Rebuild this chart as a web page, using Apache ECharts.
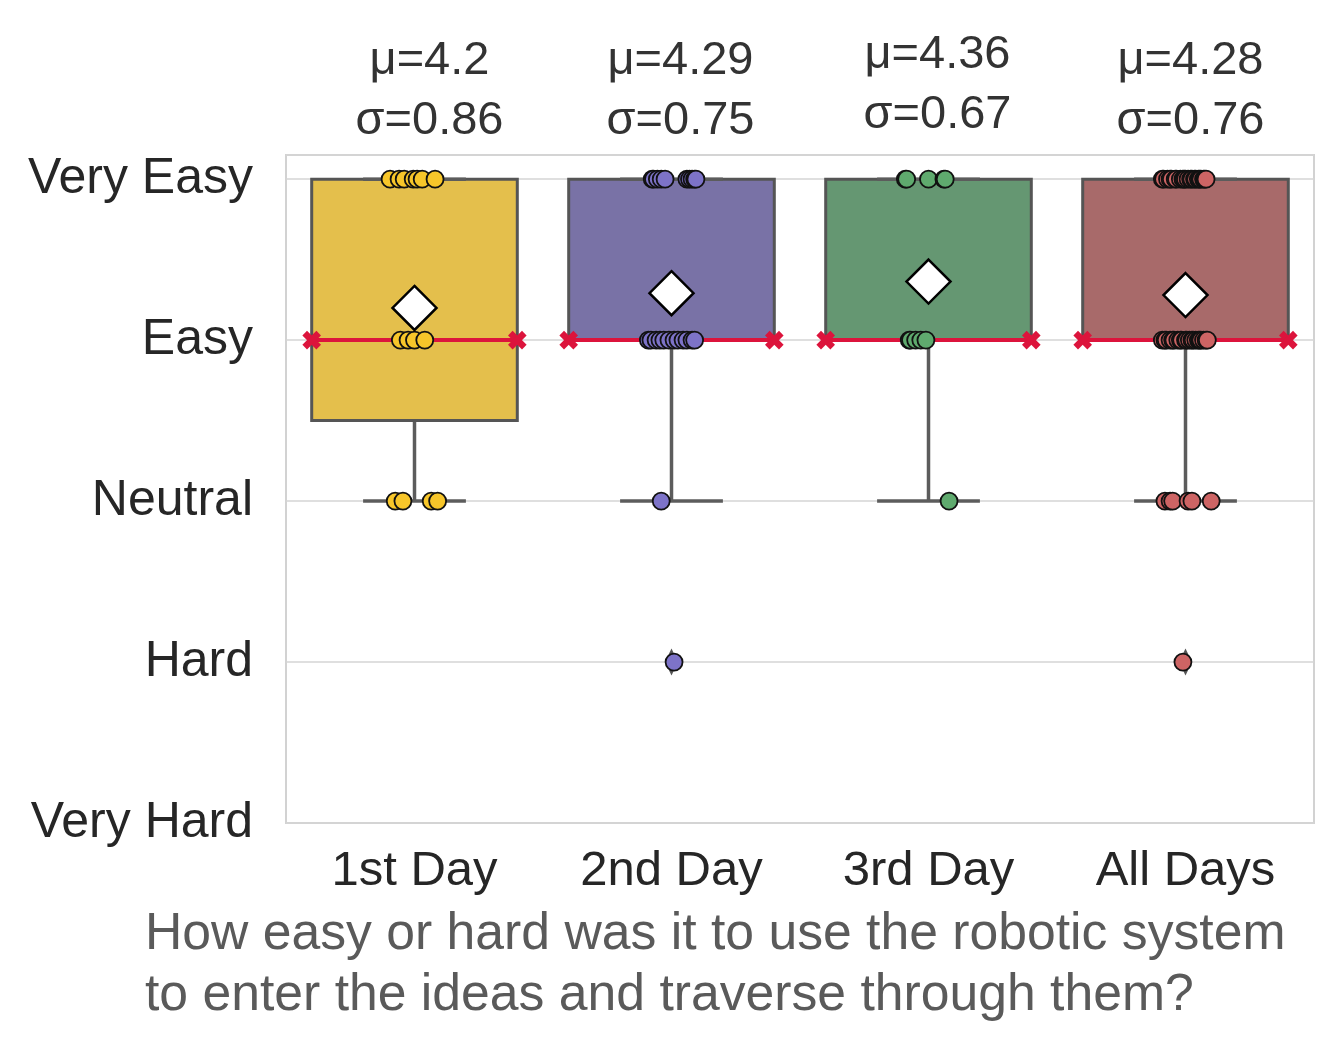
<!DOCTYPE html>
<html>
<head>
<meta charset="utf-8">
<script src="https://cdn.jsdelivr.net/npm/echarts@6/dist/echarts.min.js"></script>
<style>
  html, body { margin: 0; padding: 0; background: #ffffff; }
  #chart { width: 1338px; height: 1058px; }
</style>
</head>
<body>
<div id="chart"></div>
<script>
// ---------- data ----------
const categories = ['1st Day', '2nd Day', '3rd Day', 'All Days'];
const yTickLabels = ['Very Hard', 'Hard', 'Neutral', 'Easy', 'Very Easy']; // values 1..5
const questionText = 'How easy or hard was it to use the robotic system\nto enter the ideas and traverse through them?';

// individual responses (5 = Very Easy ... 1 = Very Hard)
const day1Responses = [5,5,5,5,5,5,5, 4,4,4,4, 3,3,3,3];
const day2Responses = [5,5,5,5,5,5,5,5,5,5, 4,4,4,4,4,4,4,4,4,4,4,4, 3, 2];
const day3Responses = [5,5,5,5,5, 4,4,4,4,4, 3];
const allDaysResponses = [
  5,5,5,5,5,5,5,5,5,5,5,5,5,5,5,5,5,5,5,5,5,5,
  4,4,4,4,4,4,4,4,4,4,4,4,4,4,4,4,4,4,4,4,4,
  3,3,3,3,3,3,
  2
];

// horizontal strip jitter (category units), as seen in the picture
const day1Jitter = [-0.095,-0.06,-0.04,-0.005,0.01,0.03,0.08, -0.055,-0.025,0.0,0.04, -0.075,-0.045,0.065,0.09];
const day2Jitter = [-0.075,-0.07,-0.055,-0.04,-0.025,0.06,0.07,0.08,0.09,0.095,
                    -0.09,-0.08,-0.06,-0.045,-0.03,-0.01,0.01,0.025,0.045,0.06,0.08,0.09,
                    -0.04, 0.01];
const day3Jitter = [-0.09,-0.085,0.0,0.06,0.065, -0.075,-0.07,-0.05,-0.03,-0.01, 0.08];
const allDaysJitter = [
  -0.09,-0.085,-0.07,-0.06,-0.055,-0.04,-0.035,-0.02,-0.01,-0.005,0.0,0.01,0.02,0.025,0.035,0.04,0.05,0.055,0.06,0.07,0.075,0.08,
  -0.09,-0.08,-0.075,-0.06,-0.05,-0.045,-0.03,-0.02,-0.015,0.0,0.005,0.015,0.025,0.03,0.04,0.05,0.055,0.06,0.07,0.08,0.085,
  -0.08,-0.06,-0.05,0.01,0.025,0.1,
  -0.01
];

const groups = [day1Responses, day2Responses, day3Responses, allDaysResponses];
const jitters = [day1Jitter, day2Jitter, day3Jitter, allDaysJitter];

// ---------- styles ----------
const boxColors = ['#E4BF4C', '#7972A6', '#659772', '#A86A6A'];
const dotColors = ['#F7C62A', '#7D73C8', '#5FAA6E', '#CD6464'];
const edgeColor = '#555555';
const medianColor = '#DC143C';
const FONT = 'Liberation Sans, Arial, sans-serif';

// ---------- statistics ----------
function quantile(sorted, p) {
  const pos = (sorted.length - 1) * p;
  const lo = Math.floor(pos), hi = Math.ceil(pos);
  return sorted[lo] + (sorted[hi] - sorted[lo]) * (pos - lo);
}
function stats(vals) {
  const s = vals.slice().sort((a, b) => a - b);
  const n = s.length;
  const mean = s.reduce((a, b) => a + b, 0) / n;
  const sd = Math.sqrt(s.reduce((a, b) => a + (b - mean) * (b - mean), 0) / (n - 1));
  const q1 = quantile(s, 0.25), med = quantile(s, 0.5), q3 = quantile(s, 0.75);
  const iqr = q3 - q1;
  const inside = s.filter(v => v >= q1 - 1.5 * iqr && v <= q3 + 1.5 * iqr);
  const lo = Math.min(...inside), hi = Math.max(...inside);
  const fliers = s.filter(v => v < q1 - 1.5 * iqr || v > q3 + 1.5 * iqr);
  return { mean, sd, q1, med, q3, lo, hi, fliers };
}
const st = groups.map(stats);
const fmt = v => String(parseFloat(v.toFixed(2)));

const boxData = st.map((s, i) => [i, s.lo, s.q1, s.med, s.q3, s.hi]);
const meanData = st.map((s, i) => [i, s.mean]);
const flierData = [];
st.forEach((s, i) => s.fliers.forEach(v => flierData.push([i, v])));

const stripSeries = groups.map((g, i) => ({
  type: 'scatter',
  xAxisIndex: 1, yAxisIndex: 0,
  z: 4,
  symbol: 'circle',
  symbolSize: 17,
  itemStyle: { color: dotColors[i], borderColor: '#111111', borderWidth: 1.8, opacity: 1 },
  data: g.map((v, k) => [i + jitters[i][k], v]),
  silent: true
}));

function renderBox(params, api) {
  const x = api.value(0);
  const lo = api.value(1), q1 = api.value(2), med = api.value(3), q3 = api.value(4), hi = api.value(5);
  const w = api.size([0.8, 0])[0];
  const cx = api.coord([x, med])[0];
  const yLo = api.coord([x, lo])[1], yQ1 = api.coord([x, q1])[1], yMed = api.coord([x, med])[1];
  const yQ3 = api.coord([x, q3])[1], yHi = api.coord([x, hi])[1];
  const left = cx - w / 2, right = cx + w / 2;
  const capHalf = w / 4;
  const wStyle = { stroke: '#5c5c5c', lineWidth: 3.5, fill: null };
  const xm = 7;
  const xStyle = { stroke: medianColor, lineWidth: 6.5, lineCap: 'butt' };
  const children = [
    { type: 'line', shape: { x1: cx, y1: yQ1, x2: cx, y2: yLo }, style: wStyle },
    { type: 'line', shape: { x1: cx, y1: yQ3, x2: cx, y2: yHi }, style: wStyle },
    { type: 'rect', shape: { x: left, y: yQ3, width: w, height: yQ1 - yQ3 },
      style: { fill: boxColors[params.dataIndex], stroke: edgeColor, lineWidth: 3 } },
    { type: 'line', shape: { x1: cx - capHalf, y1: yLo, x2: cx + capHalf, y2: yLo }, style: wStyle },
    { type: 'line', shape: { x1: cx - capHalf, y1: yHi, x2: cx + capHalf, y2: yHi }, style: wStyle },
    { type: 'line', shape: { x1: left, y1: yMed, x2: right, y2: yMed }, style: { stroke: medianColor, lineWidth: 4 } }
  ];
  [left, right].forEach(px => {
    children.push({ type: 'line', shape: { x1: px - xm, y1: yMed - xm, x2: px + xm, y2: yMed + xm }, style: xStyle });
    children.push({ type: 'line', shape: { x1: px - xm, y1: yMed + xm, x2: px + xm, y2: yMed - xm }, style: xStyle });
  });
  return { type: 'group', children };
}

const chart = echarts.init(document.getElementById('chart'), null, { renderer: 'canvas' });

const option = {
  backgroundColor: '#ffffff',
  animation: false,
  textStyle: { fontFamily: FONT },
  grid: { left: 286, right: 24, top: 155, bottom: 235, show: true, borderColor: '#d2d2d2', borderWidth: 2, backgroundColor: 'transparent' },
  xAxis: [
    {
      type: 'category', data: categories, boundaryGap: true,
      axisLine: { show: false }, axisTick: { show: false }, splitLine: { show: false },
      axisLabel: { color: '#262626', fontSize: 49, margin: 24, fontFamily: FONT }
    },
    { type: 'value', min: -0.5, max: 3.5, show: false }
  ],
  yAxis: [{
    type: 'value', min: 1, max: 5.15, interval: 1,
    axisLine: { show: false }, axisTick: { show: false },
    splitLine: { show: true, lineStyle: { color: '#d5d5d5', width: 1.5 } },
    axisLabel: {
      color: '#262626', fontSize: 50, margin: 33, fontFamily: FONT, lineHeight: 50, padding: [7, 0, 0, 0],
      formatter: v => (Math.abs(v - Math.round(v)) < 1e-9 ? yTickLabels[Math.round(v) - 1] : '')
    }
  }],
  series: [
    { type: 'custom', xAxisIndex: 1, yAxisIndex: 0, z: 2, renderItem: renderBox, data: boxData, silent: true },
    { type: 'scatter', xAxisIndex: 1, yAxisIndex: 0, z: 3, symbol: 'diamond', symbolSize: [13, 27],
      itemStyle: { color: '#2b2b2b' }, data: flierData, silent: true },
    ...stripSeries,
    { type: 'scatter', xAxisIndex: 1, yAxisIndex: 0, z: 5, symbol: 'diamond', symbolSize: 44,
      itemStyle: { color: '#ffffff', borderColor: '#000000', borderWidth: 2.5, opacity: 1 }, data: meanData, silent: true }
  ]
};
chart.setOption(option);

// annotations above each category and the question text below
const annotXOffset = [15, 9, 9, 5];
const annotYOffset = [0, 0, -6, 0];
const graphics = st.map((s, i) => {
  const px = chart.convertToPixel({ xAxisIndex: 1 }, i);
  return {
    type: 'text', x: px + annotXOffset[i], y: 91 + annotYOffset[i],
    style: {
      text: 'μ=' + fmt(s.mean) + '\nσ=' + fmt(s.sd),
      fill: '#333333', fontSize: 47, lineHeight: 60, align: 'center', verticalAlign: 'middle',
      fontFamily: FONT
    }
  };
});
graphics.push({
  type: 'text', x: 145, y: 965,
  style: {
    text: questionText, fill: '#5a5a5a', fontSize: 51.7, lineHeight: 61,
    align: 'left', verticalAlign: 'middle', fontFamily: FONT
  }
});
chart.setOption({ graphic: graphics });
</script>
</body>
</html>
